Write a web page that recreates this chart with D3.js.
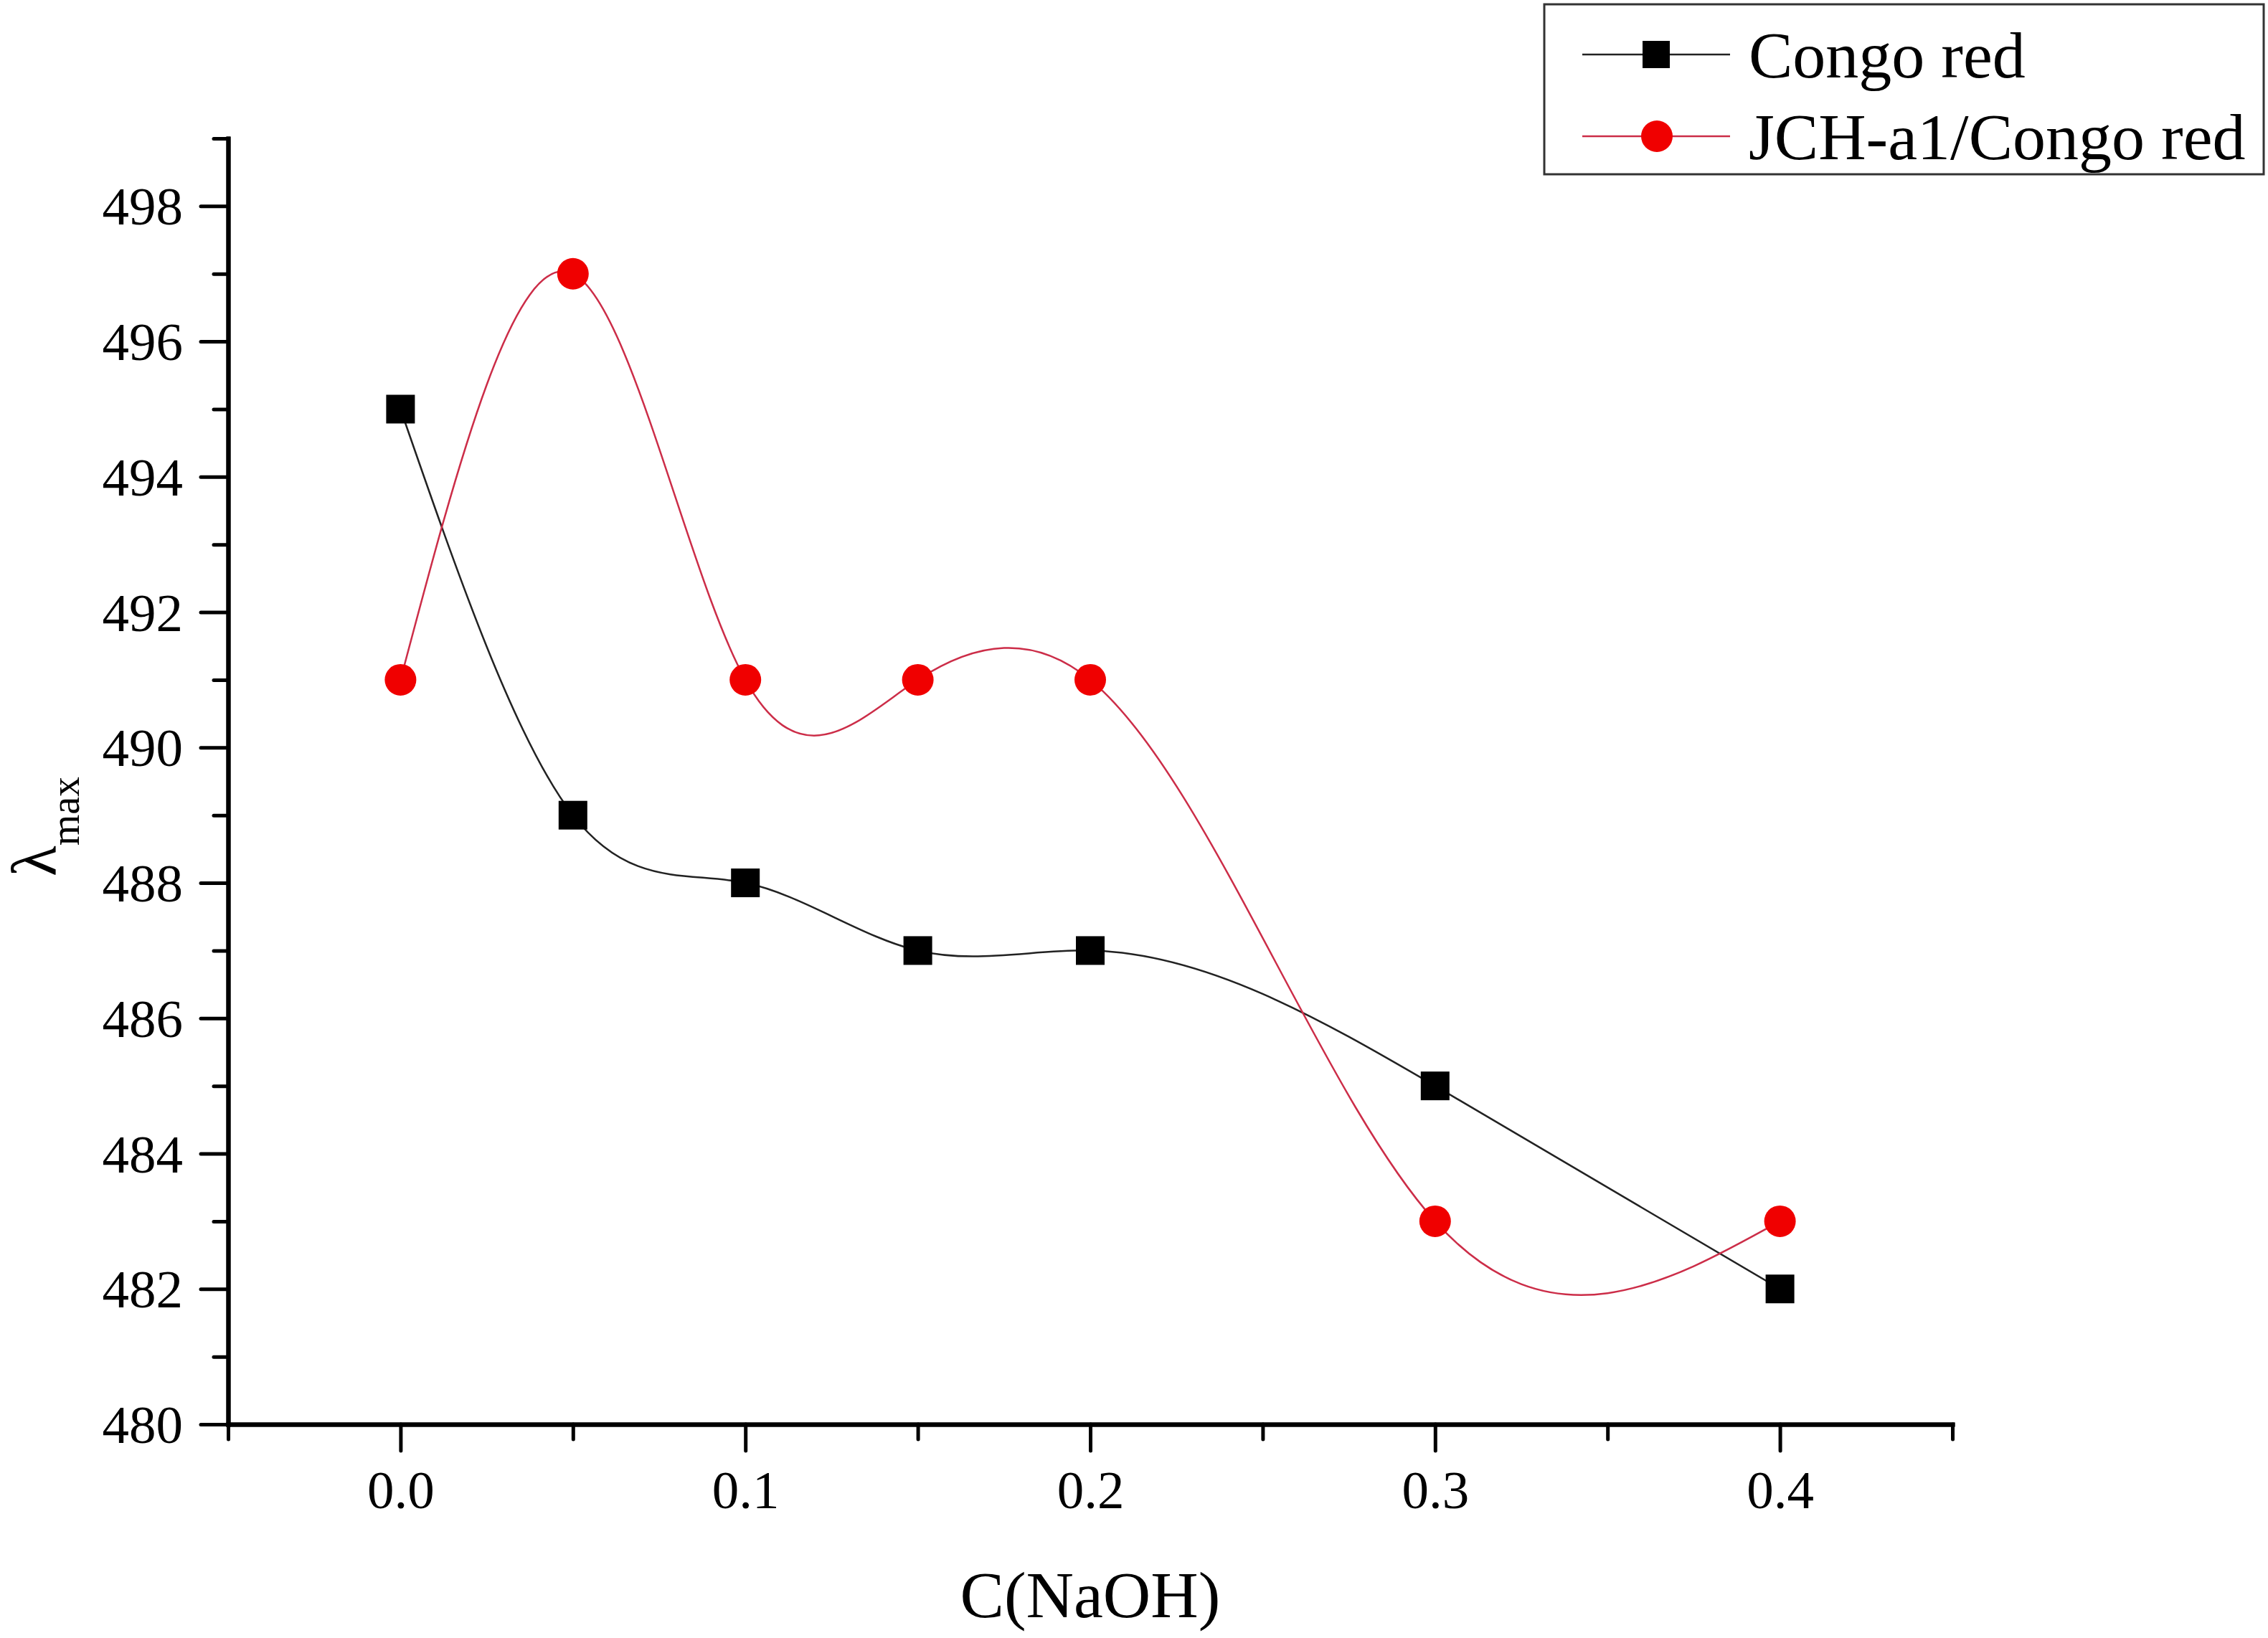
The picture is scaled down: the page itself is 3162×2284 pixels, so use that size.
<!DOCTYPE html>
<html>
<head>
<meta charset="utf-8">
<title>lambda max vs C(NaOH)</title>
<script src="https://d3js.org/d3.v7.min.js"></script>
<style type="text/css">
	body{
		margin: 0;
		background: white;
	}
	text{
		font-family: "Times New Roman", "Liberation Serif", serif;
		fill: black;
	}
	.axis path, .axis line{
		stroke: black;
	}
	.axis path{
		stroke-width: 6;
	}
	.axis line{
		stroke-width: 5;
		stroke-linecap: round;
	}
	.legendBox{
		fill: none;
		stroke: #333;
		stroke-width: 3;
	}
</style>
</head>
<body>
	<svg id="chart" width="3162" height="2284"></svg>
	<script>
		// data
		var concentration = [0.0, 0.05, 0.1, 0.15, 0.2, 0.3, 0.4];
		var congoRed = [495, 489, 488, 487, 487, 485, 482];
		var jchCongoRed = [491, 497, 491, 491, 491, 483, 483];
		var seriesNames = ["Congo red", "JCH-a1/Congo red"];

		var xMajorTicks = [0.0, 0.1, 0.2, 0.3, 0.4];
		var xMinorTicks = [-0.05, 0.05, 0.15, 0.25, 0.35, 0.45];
		var yMajorTicks = [480, 482, 484, 486, 488, 490, 492, 494, 496, 498];
		var yMinorTicks = [481, 483, 485, 487, 489, 491, 493, 495, 497, 499];

		var svg = d3.select("#chart");
		var margin = {top: 193, right: 440, bottom: 298, left: 318};
		var width = +svg.attr("width");
		var height = +svg.attr("height");
		var plotW = width - margin.left - margin.right;
		var plotH = height - margin.top - margin.bottom;

		svg.append("rect").attr("width", width).attr("height", height).attr("fill", "white");

		var x = d3.scaleLinear().domain([-0.05, 0.45]).range([0, plotW]);
		var y = d3.scaleLinear().domain([480, 499]).range([plotH, 0]);

		var g = svg.append("g")
			.attr("transform", "translate(" + margin.left + "," + margin.top + ")");

		// natural cubic spline of y over x (what Origin draws as "Spline")
		function curveSplineX(context){
			return {
				areaStart: function(){},
				areaEnd: function(){},
				lineStart: function(){ this._x = []; this._y = []; },
				point: function(px, py){ this._x.push(+px); this._y.push(+py); },
				lineEnd: function(){
					var xs = this._x, ys = this._y, n = xs.length;
					if(!n) return;
					context.moveTo(xs[0], ys[0]);
					if(n < 3){
						for(var k = 1; k < n; k++) context.lineTo(xs[k], ys[k]);
						return;
					}
					var h = [], s = [];
					for(var i = 0; i < n - 1; i++){
						h[i] = xs[i + 1] - xs[i];
						s[i] = (ys[i + 1] - ys[i]) / h[i];
					}
					// tridiagonal system for second derivatives, M[0] = M[n-1] = 0
					var M = new Array(n).fill(0);
					var cp = [], dp = [];
					for(var i = 1; i < n - 1; i++){
						var a = h[i - 1], b = 2 * (h[i - 1] + h[i]), c = h[i];
						var r = 6 * (s[i] - s[i - 1]);
						if(i > 1){
							b -= a * cp[i - 1];
							r -= a * dp[i - 1];
						}
						cp[i] = c / b;
						dp[i] = r / b;
					}
					for(var i = n - 2; i >= 1; i--){
						M[i] = dp[i] - (i < n - 2 ? cp[i] * M[i + 1] : 0);
					}
					for(var i = 0; i < n - 1; i++){
						var d0 = s[i] - h[i] * (2 * M[i] + M[i + 1]) / 6;
						var d1 = s[i] + h[i] * (M[i] + 2 * M[i + 1]) / 6;
						var t = h[i] / 3;
						context.bezierCurveTo(xs[i] + t, ys[i] + t * d0,
							xs[i + 1] - t, ys[i + 1] - t * d1,
							xs[i + 1], ys[i + 1]);
					}
				}
			};
		}

		// minor ticks
		g.append("g").attr("class", "axis")
			.attr("transform", "translate(0," + plotH + ")")
			.call(d3.axisBottom(x).tickValues(xMinorTicks).tickSize(21).tickSizeOuter(0).tickFormat(""));
		g.append("g").attr("class", "axis")
			.call(d3.axisLeft(y).tickValues(yMinorTicks).tickSize(20).tickSizeOuter(0).tickFormat(""));

		// major ticks
		var xAxis = g.append("g").attr("class", "axis")
			.attr("transform", "translate(0," + plotH + ")")
			.call(d3.axisBottom(x).tickValues(xMajorTicks).tickSize(37).tickSizeOuter(0).tickFormat(d3.format(".1f")));
		xAxis.selectAll("text")
			.attr("y", 117).attr("dy", 0)
			.style("font-size", "75px");

		var yAxis = g.append("g").attr("class", "axis")
			.call(d3.axisLeft(y).tickValues(yMajorTicks).tickSize(38).tickSizeOuter(0).tickFormat(d3.format("d")));
		yAxis.selectAll("text")
			.attr("x", -63).attr("dy", "0.34em")
			.style("font-size", "75px");

		g.selectAll(".axis text").attr("fill", "black");
		g.selectAll(".axis .domain").attr("stroke-linecap", "square");

		// axis titles
		svg.append("text")
			.attr("x", margin.left + plotW / 2)
			.attr("y", 2255)
			.attr("text-anchor", "middle")
			.style("font-size", "92px")
			.text("C(NaOH)");

		var yTitle = svg.append("text")
			.attr("transform", "translate(78,1222) rotate(-90)")
			.style("font-size", "88px");
		yTitle.append("tspan").text("\u03bb");
		yTitle.append("tspan").attr("dy", 32).style("font-size", "56px").text("max");

		// series
		var line = d3.line()
			.x(function(d, i){ return x(concentration[i]); })
			.y(function(d){ return y(d); })
			.curve(curveSplineX);

		g.append("path").datum(congoRed)
			.attr("fill", "none").attr("stroke", "#222").attr("stroke-width", 2.5)
			.attr("d", line);
		g.append("path").datum(jchCongoRed)
			.attr("fill", "none").attr("stroke", "#cc2d48").attr("stroke-width", 2.5)
			.attr("d", line);

		var sq = 40, rad = 22;
		g.selectAll(".sq").data(congoRed).enter().append("rect")
			.attr("class", "sq")
			.attr("x", function(d, i){ return x(concentration[i]) - sq / 2; })
			.attr("y", function(d){ return y(d) - sq / 2; })
			.attr("width", sq).attr("height", sq)
			.attr("fill", "black");
		g.selectAll(".dot").data(jchCongoRed).enter().append("circle")
			.attr("class", "dot")
			.attr("cx", function(d, i){ return x(concentration[i]); })
			.attr("cy", function(d){ return y(d); })
			.attr("r", rad)
			.attr("fill", "#f00000");

		// legend
		var legend = svg.append("g").attr("transform", "translate(2153,6)");
		legend.append("rect").attr("class", "legendBox")
			.attr("width", 1003).attr("height", 237);
		var rows = legend.selectAll(".row").data(seriesNames).enter().append("g")
			.attr("class", "row")
			.attr("transform", function(d, i){ return "translate(0," + (70 + i * 114) + ")"; });
		rows.append("line")
			.attr("x1", 53).attr("x2", 259)
			.attr("stroke", function(d, i){ return i ? "#cc2d48" : "#222"; })
			.attr("stroke-width", 2.5);
		rows.filter(function(d, i){ return i === 0; }).append("rect")
			.attr("x", 156 - 19).attr("y", -19).attr("width", 38).attr("height", 38)
			.attr("fill", "black");
		rows.filter(function(d, i){ return i === 1; }).append("circle")
			.attr("cx", 157).attr("r", rad).attr("fill", "#f00000");
		rows.append("text")
			.attr("x", 285).attr("y", 32)
			.style("font-size", "92px")
			.text(function(d){ return d; });
	</script>
</body>
</html>
